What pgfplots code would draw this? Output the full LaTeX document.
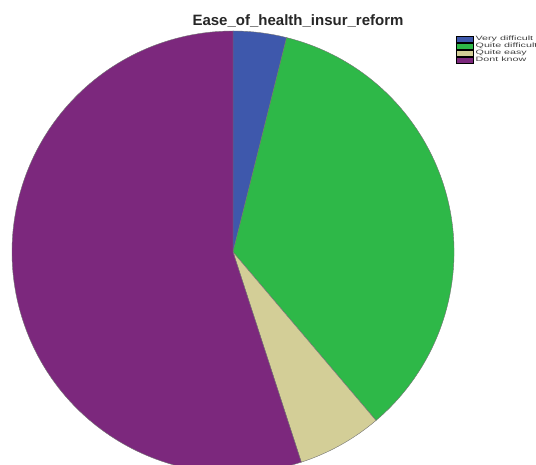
\documentclass[border=0pt]{standalone}
\usepackage{pgfplots}
\pgfplotsset{compat=1.18}
\usepackage{fontspec}
\setmainfont{Liberation Sans}
\newfontfamily\legfont[FakeStretch=1.7]{Liberation Sans}
\definecolor{vdiff}{HTML}{3E58AC}
\definecolor{qdiff}{HTML}{2EB848}
\definecolor{qeasy}{HTML}{D3CE97}
\definecolor{dk}{HTML}{7C287D}
\begin{document}
\begin{tikzpicture}
\begin{axis}[
  width=536pt, height=465pt, scale only axis,
  xmin=0, xmax=536, ymin=0, ymax=465,
  axis lines=none, clip=true,
  legend style={at={(456/536,431/465)}, anchor=north west, draw=none, fill=none,
    font=\legfont\fontsize{6.3}{6.5}\selectfont, inner sep=0pt, row sep=-3pt,
    text=black!75,
    /tikz/every even column/.append style={column sep=0pt}},
  legend cell align=left,
  legend image code/.code={\draw[#1, draw=black!40, line width=0.2pt] (0pt,-2.6pt) rectangle (5.5pt,2.6pt);},
]
\def\cx{233}\def\cy{213}\def\R{221}
\xdef\sa{90}
\foreach \v/\c in {3.9/vdiff,34.9/qdiff,6.2/qeasy,55.0/dk}{
  \pgfmathsetmacro\ea{\sa-3.6*\v}
  \pgfmathsetmacro\xa{\cx+\R*cos(\sa)}
  \pgfmathsetmacro\ya{\cy+\R*sin(\sa)}
  \edef\temp{\noexpand\fill[fill=\c, draw=black!55, line width=0.4pt] (axis cs:\cx,\cy) -- (axis cs:\xa,\ya) arc[start angle=\sa, end angle=\ea, radius=\R pt] -- cycle;}
  \temp
  \xdef\sa{\ea}
}
\node[font=\bfseries\fontsize{15}{16}\selectfont, text=black!85] at (axis cs:298,444) {Ease\_of\_health\_insur\_reform};
\addlegendimage{area legend, fill=vdiff}
\addlegendentry{Very difficult}
\addlegendimage{area legend, fill=qdiff}
\addlegendentry{Quite difficult}
\addlegendimage{area legend, fill=qeasy}
\addlegendentry{Quite easy}
\addlegendimage{area legend, fill=dk}
\addlegendentry{Dont know}
\end{axis}
\pgfresetboundingbox
\path (current axis.south west) rectangle (current axis.north east);
\end{tikzpicture}
\end{document}
